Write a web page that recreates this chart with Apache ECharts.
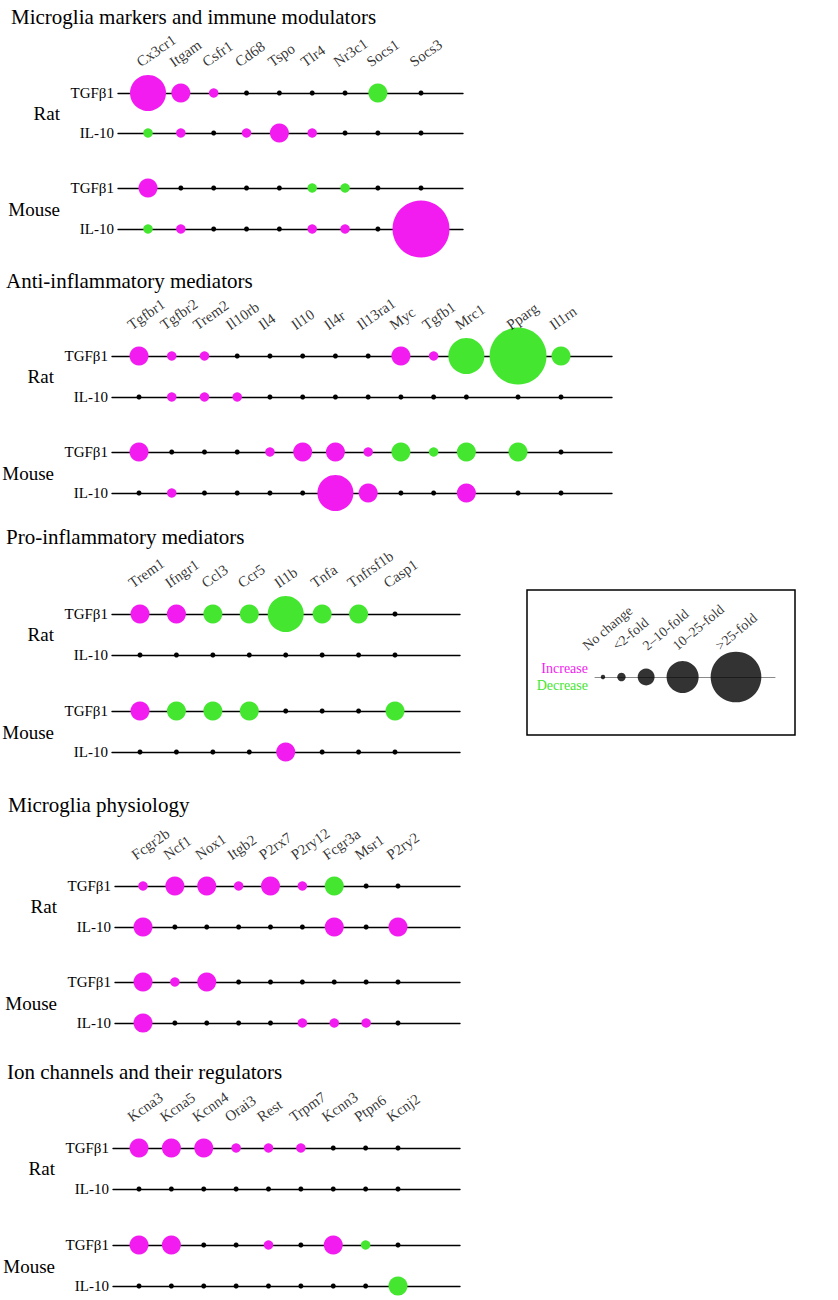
<!DOCTYPE html>
<html><head><meta charset="utf-8">
<script src="https://cdn.jsdelivr.net/npm/echarts@6/dist/echarts.min.js"></script>
<style>html,body{margin:0;padding:0;background:#fff}#c{width:838px;height:1300px}</style>
</head><body><div id="c"></div>
<script>
// ---------------- data ----------------
// fold-change class: 0 = no change, 1 = <2-fold, 2 = 2–10-fold, 3 = 10–25-fold, 4 = >25-fold
// sign: positive = increase, negative = decrease
const sectionTitles = ['Microglia markers and immune modulators', 'Anti-inflammatory mediators', 'Pro-inflammatory mediators', 'Microglia physiology', 'Ion channels and their regulators'];
const rowLabels = ['TGFβ1', 'IL-10', 'TGFβ1', 'IL-10'];
const speciesLabels = ['Rat', 'Mouse'];

const markersGenes = ['Cx3cr1', 'Itgam', 'Csfr1', 'Cd68', 'Tspo', 'Tlr4', 'Nr3c1', 'Socs1', 'Socs3'];
const markersRatTGFb1 = [3, 2, 1, 0, 0, 0, 0, -2, 0];
const markersRatIL10 = [-1, 1, 0, 1, 2, 1, 0, 0, 0];
const markersMouseTGFb1 = [2, 0, 0, 0, 0, -1, -1, 0, 0];
const markersMouseIL10 = [-1, 1, 0, 0, 0, 1, 1, 0, 4];

const antiGenes = ['Tgfbr1', 'Tgfbr2', 'Trem2', 'Il10rb', 'Il4', 'Il10', 'Il4r', 'Il13ra1', 'Myc', 'Tgfb1', 'Mrc1', 'Pparg', 'Il1rn'];
const antiRatTGFb1 = [2, 1, 1, 0, 0, 0, 0, 0, 2, 1, -3, -4, -2];
const antiRatIL10 = [0, 1, 1, 1, 0, 0, 0, 0, 0, 0, 0, 0, 0];
const antiMouseTGFb1 = [2, 0, 0, 0, 1, 2, 2, 1, -2, -1, -2, -2, 0];
const antiMouseIL10 = [0, 1, 0, 0, 0, 0, 3, 2, 0, 0, 2, 0, 0];

const proGenes = ['Trem1', 'Ifngr1', 'Ccl3', 'Ccr5', 'Il1b', 'Tnfa', 'Tnfrsf1b', 'Casp1'];
const proRatTGFb1 = [2, 2, -2, -2, -3, -2, -2, 0];
const proRatIL10 = [0, 0, 0, 0, 0, 0, 0, 0];
const proMouseTGFb1 = [2, -2, -2, -2, 0, 0, 0, -2];
const proMouseIL10 = [0, 0, 0, 0, 2, 0, 0, 0];

const physGenes = ['Fcgr2b', 'Ncf1', 'Nox1', 'Itgb2', 'P2rx7', 'P2ry12', 'Fcgr3a', 'Msr1', 'P2ry2'];
const physRatTGFb1 = [1, 2, 2, 1, 2, 1, -2, 0, 0];
const physRatIL10 = [2, 0, 0, 0, 0, 0, 2, 0, 2];
const physMouseTGFb1 = [2, 1, 2, 0, 0, 0, 0, 0, 0];
const physMouseIL10 = [2, 0, 0, 0, 0, 1, 1, 1, 0];

const ionGenes = ['Kcna3', 'Kcna5', 'Kcnn4', 'Orai3', 'Rest', 'Trpm7', 'Kcnn3', 'Ptpn6', 'Kcnj2'];
const ionRatTGFb1 = [2, 2, 2, 1, 1, 1, 0, 0, 0];
const ionRatIL10 = [0, 0, 0, 0, 0, 0, 0, 0, 0];
const ionMouseTGFb1 = [2, 2, 0, 0, 1, 0, 2, -1, 0];
const ionMouseIL10 = [0, 0, 0, 0, 0, 0, 0, 0, -2];

const legendClasses = [0, 1, 2, 3, 4];
const legendLabels = ['No change', '<2-fold', '2–10-fold', '10–25-fold', '>25-fold'];
const directionLabels = ['Increase', 'Decrease'];

// ---------------- layout & style ----------------
const FONT = '"Liberation Serif","Times New Roman",serif';
const SIZE = [5, 9.5, 19, 36, 57];
const LEGEND_SCALE = 0.89;
const UP = '#f21cf0', DOWN = '#44e630', NONE = '#000000';
const BASE = 32, GAP = 4;

const sections = [
  {genes: markersGenes, rows: [markersRatTGFb1, markersRatIL10, markersMouseTGFb1, markersMouseIL10]},
  {genes: antiGenes, rows: [antiRatTGFb1, antiRatIL10, antiMouseTGFb1, antiMouseIL10]},
  {genes: proGenes, rows: [proRatTGFb1, proRatIL10, proMouseTGFb1, proMouseIL10]},
  {genes: physGenes, rows: [physRatTGFb1, physRatIL10, physMouseTGFb1, physMouseIL10]},
  {genes: ionGenes, rows: [ionRatTGFb1, ionRatIL10, ionMouseTGFb1, ionMouseIL10]}
];
const LAYOUT = [
  {titleX: 11, titleY: 17, lineStart: 118, lineEnd: 463, firstX: 148, lastX: 421, rowY: [93, 133, 188, 229]},
  {titleX: 6, titleY: 281, lineStart: 112, lineEnd: 612, firstX: 139, lastX: 561, rowY: [356, 397, 452, 493]},
  {titleX: 6, titleY: 537, lineStart: 112, lineEnd: 460, firstX: 140, lastX: 395, rowY: [614, 655, 711, 752]},
  {titleX: 8, titleY: 805, lineStart: 115, lineEnd: 460, firstX: 143, lastX: 398, rowY: [886, 927, 982, 1023]},
  {titleX: 7, titleY: 1072, lineStart: 113, lineEnd: 460, firstX: 139, lastX: 398, rowY: [1148, 1189, 1245, 1286]}
];
const GENE_LABEL = {dx: -5, dy: -23, rotate: 35, fontSize: 15};
const LEGEND = {box: [527, 590, 268, 145], lineStart: 595, lineEnd: 775, lineY: 677, firstX: 603, gap: 12,
  textRight: 588, labelRise: 24, labelShift: -14, labelMinStep: 30, rotate: 40, fontSize: 14};

function colorOf(v) { return v > 0 ? UP : (v < 0 ? DOWN : NONE); }

const grids = [], xAxes = [], yAxes = [], series = [], graphics = [];

function addRowGrid(left, top, width, label, lineColor, lineWidth) {
  const idx = grids.length;
  grids.push({left: left, top: top, width: width, height: 0});
  xAxes.push({gridIndex: idx, type: 'value', min: 0, max: width,
    axisLine: {show: true, onZero: false, lineStyle: {color: lineColor, width: lineWidth}},
    axisTick: {show: false}, axisLabel: {show: false}, splitLine: {show: false}});
  yAxes.push({gridIndex: idx, type: 'category', data: [label],
    axisLine: {show: false}, axisTick: {show: false}, splitLine: {show: false},
    axisLabel: {show: label !== '', interval: 0, margin: 4, fontFamily: FONT, fontSize: 15, color: '#000'}});
  return idx;
}

sections.forEach(function (sec, s) {
  const L = LAYOUT[s];
  const W = L.lineEnd - L.lineStart;
  const n = sec.genes.length;
  const D = sec.genes.map(function (g, i) {
    return Math.max.apply(null, sec.rows.map(function (r) { return SIZE[Math.abs(r[i])]; }));
  });
  const raw = [0];
  for (let i = 1; i < n; i++) raw.push(raw[i - 1] + Math.max(BASE, (D[i - 1] + D[i]) / 2 + GAP));
  const k = (L.lastX - L.firstX) / raw[n - 1];
  const xs = raw.map(function (r) { return L.firstX - L.lineStart + r * k; });

  sec.rows.forEach(function (vals, r) {
    const gi = addRowGrid(L.lineStart, L.rowY[r], W, rowLabels[r], '#000', 1.4);
    series.push({
      type: 'scatter', xAxisIndex: gi, yAxisIndex: gi, clip: false, silent: true, z: 3,
      data: vals.map(function (v, i) { return {value: [xs[i], 0, v], name: sec.genes[i]}; }),
      symbolSize: function (val) { return SIZE[Math.abs(val[2])]; },
      itemStyle: {color: function (p) { return colorOf(p.value[2]); }, opacity: 1}
    });
    if (r === 0) {
      series.push({
        type: 'scatter', xAxisIndex: gi, yAxisIndex: gi, clip: false, silent: true, z: 4,
        symbolSize: 1, itemStyle: {color: 'rgba(0,0,0,0)'},
        data: sec.genes.map(function (g, i) { return {value: [xs[i], 0], name: g}; }),
        label: {show: true, formatter: '{b}', position: [GENE_LABEL.dx, GENE_LABEL.dy], align: 'left', verticalAlign: 'bottom',
          rotate: GENE_LABEL.rotate, fontFamily: FONT, fontSize: GENE_LABEL.fontSize, color: '#000', textBorderWidth: 0}
      });
    }
  });

  graphics.push({type: 'text', x: L.titleX, y: L.titleY, silent: true,
    style: {text: sectionTitles[s], fontFamily: FONT, fontSize: 21, fill: '#000',
      textAlign: 'left', align: 'left', textVerticalAlign: 'middle', verticalAlign: 'middle'}});
  graphics.push({type: 'text', x: L.lineStart - 58, y: (L.rowY[0] + L.rowY[1]) / 2, silent: true,
    style: {text: speciesLabels[0], fontFamily: FONT, fontSize: 19, fill: '#000',
      textAlign: 'right', align: 'right', textVerticalAlign: 'middle', verticalAlign: 'middle'}});
  graphics.push({type: 'text', x: L.lineStart - 58, y: (L.rowY[2] + L.rowY[3]) / 2 + 1, silent: true,
    style: {text: speciesLabels[1], fontFamily: FONT, fontSize: 19, fill: '#000',
      textAlign: 'right', align: 'right', textVerticalAlign: 'middle', verticalAlign: 'middle'}});
});

// ---- legend ----
(function () {
  const W = LEGEND.lineEnd - LEGEND.lineStart;
  const gi = addRowGrid(LEGEND.lineStart, LEGEND.lineY, W, '', '#8a8a8a', 1);
  const rs = legendClasses.map(function (c) { return SIZE[c] * LEGEND_SCALE / 2; });
  const xs = [LEGEND.firstX - LEGEND.lineStart];
  for (let i = 1; i < rs.length; i++) xs.push(xs[i - 1] + rs[i - 1] + LEGEND.gap + rs[i]);
  // label anchors: just left of each circle, but at least labelMinStep apart
  const ax = [];
  xs.forEach(function (x, i) {
    const a = x + LEGEND.labelShift;
    ax.push(i === 0 ? a : Math.max(a, ax[i - 1] + LEGEND.labelMinStep));
  });
  series.push({
    type: 'scatter', xAxisIndex: gi, yAxisIndex: gi, clip: false, silent: true, z: 3,
    data: legendClasses.map(function (c, i) {
      return {value: [xs[i], 0, c], name: legendLabels[i],
        label: {position: [rs[i] + (ax[i] - xs[i]), rs[i] - LEGEND.labelRise]}};
    }),
    symbolSize: function (val) { return SIZE[val[2]] * LEGEND_SCALE; },
    itemStyle: {color: '#000'},
    label: {show: true, formatter: '{b}', align: 'left', verticalAlign: 'bottom', rotate: LEGEND.rotate,
      fontFamily: FONT, fontSize: LEGEND.fontSize, color: '#000', textBorderWidth: 0}
  });
  const b = LEGEND.box;
  graphics.push({type: 'rect', silent: true, shape: {x: b[0], y: b[1], width: b[2], height: b[3]},
    style: {fill: 'none', stroke: '#000', lineWidth: 1.5}});
  graphics.push({type: 'text', x: LEGEND.textRight, y: LEGEND.lineY - 9, silent: true,
    style: {text: directionLabels[0], fontFamily: FONT, fontSize: 14, fill: UP,
      textAlign: 'right', align: 'right', textVerticalAlign: 'middle', verticalAlign: 'middle'}});
  graphics.push({type: 'text', x: LEGEND.textRight, y: LEGEND.lineY + 8, silent: true,
    style: {text: directionLabels[1], fontFamily: FONT, fontSize: 14, fill: DOWN,
      textAlign: 'right', align: 'right', textVerticalAlign: 'middle', verticalAlign: 'middle'}});
})();

const chart = echarts.init(document.getElementById('c'), null, {renderer: 'svg'});
chart.setOption({
  animation: false,
  backgroundColor: '#fff',
  grid: grids, xAxis: xAxes, yAxis: yAxes, series: series, graphic: graphics
});
</script></body></html>
